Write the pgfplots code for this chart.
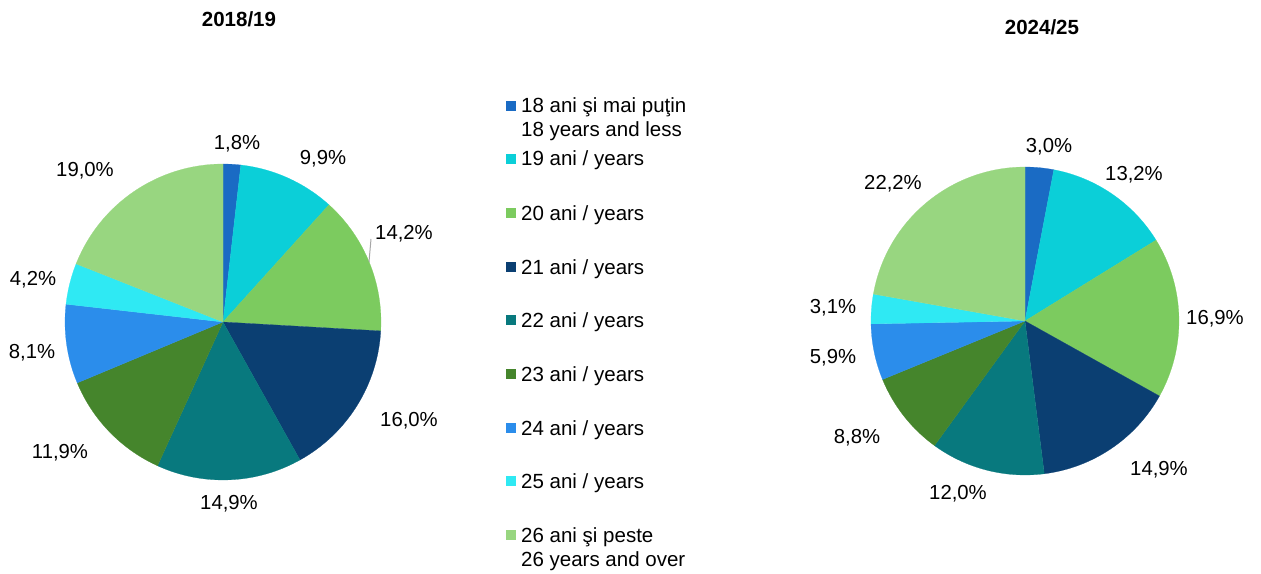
\documentclass[border=0pt]{standalone}
\usepackage{pgfplots}
\pgfplotsset{compat=1.18}
\usepackage{pgfplotstable}
\usepackage{fontspec}
\setmainfont{Liberation Sans}
\definecolor{c18}{HTML}{1A6BC4}
\definecolor{c19}{HTML}{0BCFD8}
\definecolor{c20}{HTML}{7CCB5F}
\definecolor{c21}{HTML}{0B3F72}
\definecolor{c22}{HTML}{08797E}
\definecolor{c23}{HTML}{45852C}
\definecolor{c24}{HTML}{2B8DEB}
\definecolor{c25}{HTML}{2FE9F3}
\definecolor{c26}{HTML}{98D680}
\tikzset{
  lbl/.style={anchor=base, inner sep=0pt, font=\fontsize{20.3bp}{24bp}\selectfont},
  leg/.style={anchor=base west, inner sep=0pt, font=\fontsize{20.5bp}{24bp}\selectfont},
  ttl/.style={anchor=base, inner sep=0pt, font=\fontsize{20.5bp}{24bp}\selectfont\bfseries},
}

\pgfplotstableread{
pct col
1.8 c18
9.9 c19
14.2 c20
16.0 c21
14.9 c22
11.9 c23
8.1 c24
4.2 c25
19.0 c26
}\pieA
\pgfplotstableread{
pct col
3.0 c18
13.2 c19
16.9 c20
14.9 c21
12.0 c22
8.8 c23
5.9 c24
3.1 c25
22.2 c26
}\pieB

% #1 table, #2 cx, #3 cy, #4 radius (axis units = bp)
\newcommand\drawpie[4]{%
  \pgfplotstablegetrowsof{#1}%
  \pgfmathtruncatemacro\N{\pgfplotsretval-1}%
  \def\cum{0}%
  \pgfplotsforeachungrouped \i in {0,...,\N}{%
    \pgfplotstablegetelem{\i}{pct}\of{#1}\let\p\pgfplotsretval
    \pgfplotstablegetelem{\i}{col}\of{#1}\let\c\pgfplotsretval
    \pgfmathsetmacro\a{90-3.6*\cum}%
    \pgfmathsetmacro\b{90-3.6*(\cum+\p)}%
    \edef\temp{\noexpand\fill[\c, draw=\c, line width=0.2pt] (axis cs:#2,#3) -- ++(\a:#4bp) arc[start angle=\a, end angle=\b, radius=#4bp] -- cycle;}%
    \temp
    \pgfmathsetmacro\cum{\cum+\p}%
  }%
}
\newcommand\legitem[3]{% color, Y center, text
  \fill[#1] (axis cs:505.5,#2-5) rectangle (axis cs:515.5,#2+5);
  \node[leg] at (axis cs:521,#2-7) {#3};
}

\begin{document}
\begin{tikzpicture}
\begin{axis}[x=1bp,y=1bp,xmin=0,xmax=1261,ymin=0,ymax=574,hide axis,clip=false]
\drawpie{\pieA}{223}{252}{158}
\drawpie{\pieB}{1025}{253}{154}
% titles
\node[ttl] at (axis cs:239,547) {2018/19};
\node[ttl] at (axis cs:1042,539) {2024/25};
% left labels
\draw[gray!70, line width=1pt] (axis cs:369,312) -- (axis cs:371,335);
\node[lbl] at (axis cs:237,424) {1,8\%};
\node[lbl] at (axis cs:323,409) {9,9\%};
\node[lbl] at (axis cs:404,335) {14,2\%};
\node[lbl] at (axis cs:409,148) {16,0\%};
\node[lbl] at (axis cs:229,65) {14,9\%};
\node[lbl] at (axis cs:60,116) {11,9\%};
\node[lbl] at (axis cs:32,216) {8,1\%};
\node[lbl] at (axis cs:33,289) {4,2\%};
\node[lbl] at (axis cs:85,397) {19,0\%};
% right labels
\node[lbl] at (axis cs:1049,421) {3,0\%};
\node[lbl] at (axis cs:1134,393) {13,2\%};
\node[lbl] at (axis cs:1215,250) {16,9\%};
\node[lbl] at (axis cs:1159,99) {14,9\%};
\node[lbl] at (axis cs:958,75) {12,0\%};
\node[lbl] at (axis cs:857,131) {8,8\%};
\node[lbl] at (axis cs:833,211) {5,9\%};
\node[lbl] at (axis cs:833,261) {3,1\%};
\node[lbl] at (axis cs:893,385) {22,2\%};
% legend
\legitem{c18}{468}{18 ani şi mai puţin}
\node[leg] at (axis cs:521,437) {18 years and less};
\legitem{c19}{415}{19 ani / years}
\legitem{c20}{361}{20 ani / years}
\legitem{c21}{307}{21 ani / years}
\legitem{c22}{254}{22 ani / years}
\legitem{c23}{200}{23 ani / years}
\legitem{c24}{146}{24 ani / years}
\legitem{c25}{93}{25 ani / years}
\legitem{c26}{39}{26 ani şi peste}
\node[leg] at (axis cs:521,8) {26 years and over};
\end{axis}
\pgfresetboundingbox
\path (0,0) rectangle (1261bp,574bp);
\end{tikzpicture}
\end{document}
